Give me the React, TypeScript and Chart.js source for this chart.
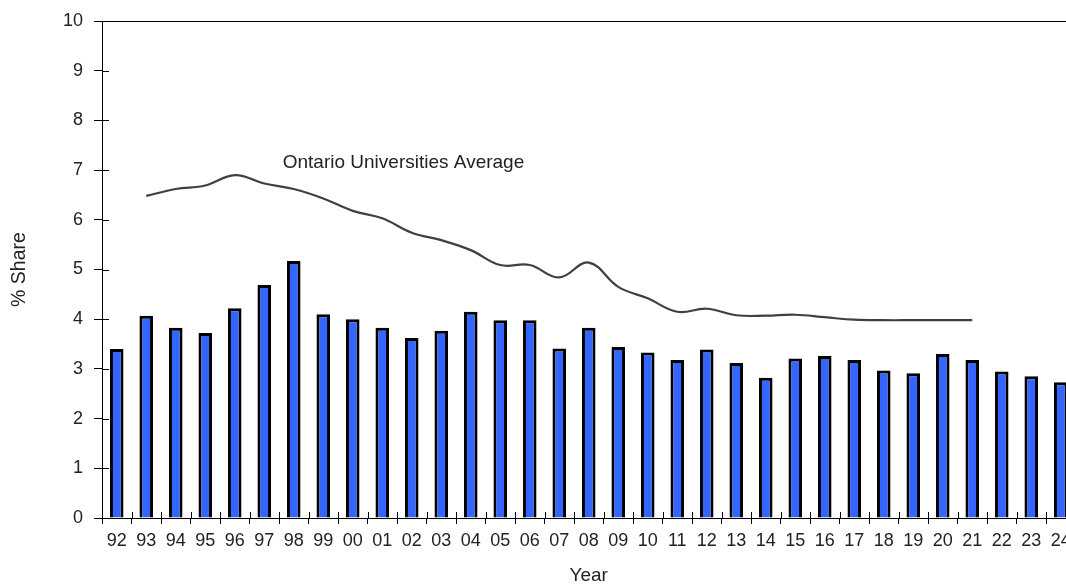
import React, { useEffect, useRef } from "react";
import { Chart, registerables } from "chart.js";

Chart.register(...registerables);

const years = ["92","93","94","95","96","97","98","99","00","01","02","03","04","05","06","07","08","09","10","11","12","13","14","15","16","17","18","19","20","21","22","23","24"];
const shareValues = [3.40,4.07,3.83,3.72,4.22,4.69,5.17,4.10,4.00,3.83,3.62,3.77,4.15,3.98,3.98,3.41,3.83,3.44,3.33,3.18,3.39,3.12,2.82,3.21,3.26,3.18,2.97,2.91,3.30,3.18,2.95,2.85,2.73];
const ontarioAverage = [null,6.48,6.62,6.69,6.90,6.73,6.62,6.43,6.18,6.03,5.74,5.59,5.39,5.09,5.09,4.84,5.14,4.65,4.42,4.15,4.21,4.08,4.07,4.09,4.04,3.99,3.98,3.98,3.98,3.98,null,null,null];
const yTicks = [0,1,2,3,4,5,6,7,8,9,10];
const annotationText = "Ontario Universities Average";
const FONT = "'Liberation Sans', Arial, sans-serif";

const framePlugin = {
  id: "framePlugin",
  afterDatasetsDraw(chart: any) {
    const { ctx, chartArea, scales } = chart;
    const { left, top, right, bottom } = chartArea;
    const x = scales.x;
    const y = scales.y;
    ctx.save();
    ctx.strokeStyle = "#000";
    ctx.lineWidth = 1;
    ctx.beginPath();
    const t = Math.round(top) + 0.5;
    const r = Math.round(right) - 0.5;
    ctx.moveTo(Math.round(left) + 0.5, t);
    ctx.lineTo(r, t);
    ctx.lineTo(r, Math.round(bottom) + 0.5);
    for (const v of yTicks) {
      const py = Math.round(y.getPixelForValue(v)) + 0.5;
      ctx.moveTo(left, py);
      ctx.lineTo(left + 7, py);
    }
    const n = years.length;
    for (let i = 0; i <= n; i++) {
      const px = Math.round(x.left + (i * x.width) / n) + 0.5;
      ctx.moveTo(px, bottom);
      ctx.lineTo(px, bottom - 6);
    }
    ctx.stroke();
    ctx.fillStyle = "#222";
    ctx.font = `19px ${FONT}`;
    ctx.textBaseline = "middle";
    ctx.textAlign = "left";
    ctx.fillText(annotationText, x.getPixelForValue(5) + 18.5, y.getPixelForValue(7.14));
    ctx.restore();
  },
};

export default function App() {
  const ref = useRef<HTMLCanvasElement>(null);
  useEffect(() => {
    if (!ref.current) return;
    const chart = new Chart(ref.current, {
      type: "bar",
      data: {
        labels: years,
        datasets: [
          {
            type: "line",
            label: annotationText,
            data: ontarioAverage as any,
            borderColor: "#404040",
            borderWidth: 2.2,
            tension: 0.4,
            pointRadius: 0,
            fill: false,
            order: 0,
          } as any,
          {
            type: "bar",
            label: "% Share",
            data: shareValues,
            backgroundColor: "#3366FF",
            borderColor: "#000",
            borderWidth: 3,
            barPercentage: 0.46,
            categoryPercentage: 1,
            order: 1,
          },
        ],
      },
      options: {
        responsive: false,
        animation: false,
        devicePixelRatio: 1,
        layout: { padding: { left: 0, top: 21, right: 4.5, bottom: 0 } },
        plugins: { legend: { display: false }, tooltip: { enabled: false } },
        scales: {
          x: {
            grid: { display: true, drawOnChartArea: false, color: "#000", tickLength: 6, offset: true },
            border: { display: true, color: "#000", width: 1 },
            ticks: { color: "#222", font: { family: FONT, size: 18 }, padding: 6, maxRotation: 0, autoSkip: false },
            title: { display: true, text: "Year", color: "#222", font: { family: FONT, size: 19, lineHeight: 1 }, padding: { top: 0, bottom: 0.5 } },
            afterFit(scale: any) { scale.height = 68; scale.paddingLeft = 0; scale.paddingRight = 0; },
          },
          y: {
            min: 0,
            max: 10,
            grid: { display: true, drawOnChartArea: false, color: "#000", tickLength: 8 },
            border: { display: true, color: "#000", width: 1 },
            ticks: { stepSize: 1, color: "#222", font: { family: FONT, size: 18 }, padding: 11 },
            title: { display: true, text: "% Share", color: "#222", font: { family: FONT, size: 19.5, lineHeight: 1 }, padding: { top: 9.75, bottom: 0 } },
            afterFit(scale: any) { scale.width = 102; scale.paddingTop = 0; scale.paddingBottom = 0; },
          },
        },
      },
      plugins: [framePlugin],
    });
    return () => chart.destroy();
  }, []);
  return (
    <div style={{ position: "absolute", left: 0, top: 0, width: 1066, height: 586, overflow: "hidden", background: "#fff" }}>
      <canvas ref={ref} width={1080} height={586} style={{ display: "block", width: 1080, height: 586 }} />
    </div>
  );
}
